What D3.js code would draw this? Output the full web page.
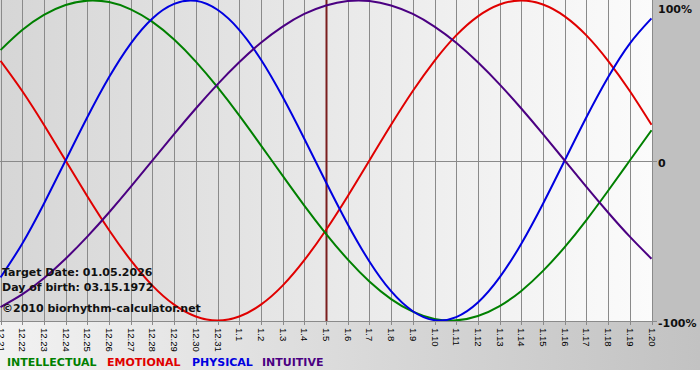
<!DOCTYPE html>
<html><head><meta charset="utf-8">
<script src="https://cdn.jsdelivr.net/npm/d3@7"></script>
<style>html,body{margin:0;padding:0;background:#fff;}svg{display:block;}</style>
</head><body>
<svg id="chart" width="700" height="380"></svg>
<script>
const dates = ["12.21","12.22","12.23","12.24","12.25","12.26","12.27","12.28","12.29","12.30","12.31","1.1","1.2","1.3","1.4","1.5","1.6","1.7","1.8","1.9","1.10","1.11","1.12","1.13","1.14","1.15","1.16","1.17","1.18","1.19","1.20"];
const intellectual = [0.690,0.815,0.910,0.972,0.999,0.990,0.945,0.866,0.756,0.618,0.458,0.282,0.095,-0.095,-0.282,-0.458,-0.618,-0.756,-0.866,-0.945,-0.990,-0.999,-0.972,-0.910,-0.815,-0.690,-0.541,-0.372,-0.189,0.000,0.189];
const emotional = [0.623,0.434,0.223,0.000,-0.223,-0.434,-0.623,-0.782,-0.901,-0.975,-1.000,-0.975,-0.901,-0.782,-0.623,-0.434,-0.223,0.000,0.223,0.434,0.623,0.782,0.901,0.975,1.000,0.975,0.901,0.782,0.623,0.434,0.223];
const physical = [-0.731,-0.520,-0.270,0.000,0.270,0.520,0.731,0.888,0.979,0.998,0.942,0.817,0.631,0.398,0.136,-0.136,-0.398,-0.631,-0.817,-0.942,-0.998,-0.979,-0.888,-0.731,-0.520,-0.270,0.000,0.270,0.520,0.731,0.888];
const intuitive = [-0.916,-0.837,-0.736,-0.614,-0.476,-0.325,-0.165,0.000,0.165,0.325,0.476,0.614,0.736,0.837,0.916,0.969,0.997,0.997,0.969,0.916,0.837,0.736,0.614,0.476,0.325,0.165,0.000,-0.165,-0.325,-0.476,-0.614];
const yTicks = [1, 0, -1];
const yTickLabels = ["100%", "0", "-100%"];
const targetDate = "1.5";
const infoLines = ["Target Date: 01.05.2026", "Day of birth: 03.15.1972", "\u00a92010 biorhythm-calculator.net"];
const legendNames = ["INTELLECTUAL", "EMOTIONAL", "PHYSICAL", "INTUITIVE"];

const svg = d3.select("#chart");
const W = 700, H = 380;
const plotL = 0, plotR = 651, plotT = 0, plotB = 321;

const x = d3.scaleLinear().domain([0, dates.length - 1]).range([plotL + 0.5, plotR + 0.5]);
const y = d3.scaleLinear().domain([-1, 1]).range([plotB - 0.5, plotT + 0.5]);

const defs = svg.append("defs");
const g1 = defs.append("linearGradient").attr("id", "plotBg").attr("x1", 0).attr("x2", 1).attr("y1", 0).attr("y2", 0);
g1.append("stop").attr("offset", 0).attr("stop-color", "#d6d6d6");
g1.append("stop").attr("offset", 1).attr("stop-color", "#fbfbfb");
const g2 = defs.append("linearGradient").attr("id", "bandBg").attr("x1", 0).attr("x2", 1).attr("y1", 0).attr("y2", 0);
g2.append("stop").attr("offset", 0).attr("stop-color", "#f2f2f2");
g2.append("stop").attr("offset", 1).attr("stop-color", "#c2c2c2");
defs.append("clipPath").attr("id", "clip").append("rect")
  .attr("x", plotL).attr("y", plotT).attr("width", plotR - plotL + 1).attr("height", plotB - plotT);

// backgrounds
svg.append("rect").attr("x", 0).attr("y", plotB).attr("width", W).attr("height", 49).attr("fill", "url(#bandBg)");
svg.append("rect").attr("x", plotR + 1).attr("y", 0).attr("width", W - plotR - 1).attr("height", plotB).attr("fill", "#c0c0c0");
svg.append("rect").attr("x", plotL).attr("y", plotT).attr("width", plotR - plotL + 1).attr("height", plotB - plotT).attr("fill", "url(#plotBg)");

// vertical grid lines + tick marks
svg.append("g").selectAll("line").data(dates).join("line")
  .attr("x1", (d, i) => Math.round(x(i)) + 0.5).attr("x2", (d, i) => Math.round(x(i)) + 0.5)
  .attr("y1", plotT).attr("y2", plotB + 4)
  .attr("stroke", "#8a8a8a").attr("stroke-width", 1);

// horizontal lines (0 and -100%)
svg.append("line").attr("x1", plotL).attr("x2", plotR + 6).attr("y1", Math.round(y(0)) + 0.5).attr("y2", Math.round(y(0)) + 0.5)
  .attr("stroke", "#8a8a8a");
svg.append("line").attr("x1", plotL).attr("x2", plotR + 6).attr("y1", plotB + 0.5).attr("y2", plotB + 0.5)
  .attr("stroke", "#8a8a8a");

// x tick labels (rotated)
svg.append("g").selectAll("text").data(dates).join("text")
  .attr("transform", (d, i) => `translate(${Math.round(x(i)) + 0.5},${plotB + 7}) rotate(90)`)
  .attr("dy", "0.35em")
  .attr("font-family", "'Liberation Sans', Arial, sans-serif").attr("font-size", 9.5)
  .attr("fill", "#000").text(d => d);

// y labels
svg.append("g").selectAll("text").data(yTicks).join("text")
  .attr("x", 658).attr("y", d => y(d) + (d === 1 ? 12 : 6))
  .attr("font-family", "'DejaVu Sans', Verdana, sans-serif").attr("font-weight", "bold").attr("font-size", 11)
  .attr("fill", "#111").text((d, i) => yTickLabels[i]);

// target line
const ti = dates.indexOf(targetDate);
svg.append("line").attr("x1", Math.round(x(ti)) + 0.5).attr("x2", Math.round(x(ti)) + 0.5)
  .attr("y1", plotT).attr("y2", plotB).attr("stroke", "#7a1e1e").attr("stroke-width", 2);

// curves
const colors = ["#008000", "#e00000", "#0000e0", "#4b0082"];
const series = [intellectual, emotional, physical, intuitive];
const line = d3.line().x((d, i) => x(i)).y(d => y(d)).curve(d3.curveNatural);
const cg = svg.append("g").attr("clip-path", "url(#clip)");
[emotional, intellectual, physical, intuitive].forEach((s) => {
  const idx = series.indexOf(s);
  cg.append("path").attr("d", line(s)).attr("fill", "none")
    .attr("stroke", colors[idx]).attr("stroke-width", 2);
});

// info text
svg.append("g").selectAll("text").data(infoLines).join("text")
  .attr("x", 2).attr("y", (d, i) => [276, 291, 312][i])
  .attr("font-family", "'DejaVu Sans', Verdana, sans-serif").attr("font-weight", "bold").attr("font-size", 11)
  .attr("fill", "#111").text(d => d);

// legend
const legendX = [7, 107, 192, 262];
svg.append("g").selectAll("text").data(legendNames).join("text")
  .attr("x", (d, i) => legendX[i]).attr("y", 366)
  .attr("font-family", "'DejaVu Sans', Verdana, sans-serif").attr("font-weight", "bold").attr("font-size", 11)
  .attr("fill", (d, i) => colors[i]).text(d => d);
</script>
</body></html>
